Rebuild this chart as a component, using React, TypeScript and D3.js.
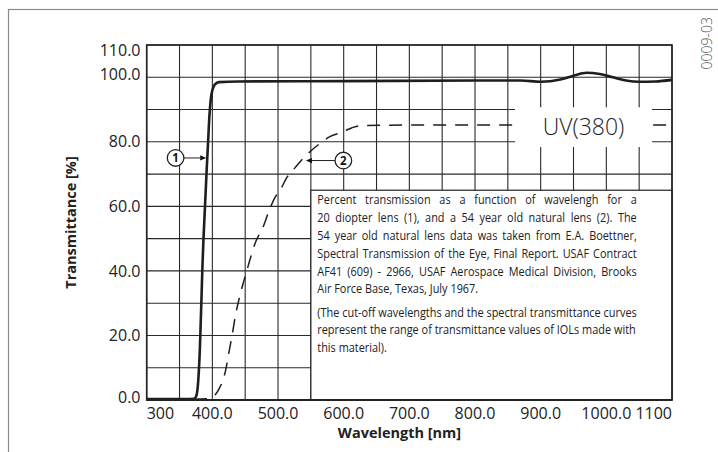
import React, { useLayoutEffect, useRef } from "react";
import * as d3 from "d3";

// ---------- data ----------
const lens20Wavelength = [300, 360, 372, 375, 376.5, 378.5, 381, 383.5, 385, 386.5, 389, 391.5, 393.5, 395.5, 397.5, 400, 404, 410, 440, 600, 800, 870, 900, 930, 950, 970, 990, 1010, 1030, 1050, 1075, 1100];
const lens20Transmit = [0.3, 0.3, 0.4, 1, 2, 6, 16, 32, 42, 50, 61, 72, 80, 88, 93, 96, 97.8, 98.5, 98.7, 98.8, 99, 99, 98.6, 99.3, 100.5, 101.4, 101, 100, 99, 98.6, 98.7, 99.2];

const natural54Wavelength = [372, 390, 400, 405, 410, 415, 420, 425, 430, 435, 441, 446, 451, 458, 465, 477, 488, 495, 505, 513, 526, 536, 549, 564, 579, 597, 612, 625, 700, 1100];
const natural54Transmit = [0.3, 0.4, 0.8, 1.8, 3.4, 5.5, 9, 14.5, 20, 26, 31.6, 35.5, 39, 44, 48.5, 53.5, 59.5, 62.6, 65.7, 68.8, 72, 74.4, 77, 79.5, 81.6, 83, 84.3, 85, 85.2, 85.2];

const xGridValues = d3.range(300, 1101, 50);
const yGridValues = d3.range(0, 111, 10);
const xTickValues = [300, 400, 500, 600, 700, 800, 900, 1000, 1100];
const xTickLabels = ["300", "400.0", "500.0", "600.0", "700.0", "800.0", "900.0", "1000.0", "1100"];
const yTickValues = [0, 20, 40, 60, 80, 100, 110];
const yTickLabels = ["0.0", "20.0", "40.0", "60.0", "80.0", "100.0", "110.0"];

const noteLines = [
  "Percent transmission as a function of wavelengh for a",
  "20 diopter lens (1), and a 54 year old natural lens (2). The",
  "54 year old natural lens data was taken from E.A. Boettner,",
  "Spectral Transmission of the Eye, Final Report. USAF Contract",
  "AF41 (609) - 2966, USAF Aerospace Medical Division, Brooks",
  "Air Force Base, Texas, July 1967.",
  "(The cut-off wavelengths and the spectral transmittance curves",
  "represent the range of transmittance values of IOLs made with",
  "this material).",
];
const noteJustified = [true, true, true, true, true, false, true, true, false];

// ---------- layout ----------
const W = 718;
const H = 452;
const M = { left: 146.7, right: 672, top: 45, bottom: 400 };
const FONT = "'Open Sans', 'DejaVu Sans', sans-serif";
const INK = "#1e1e1e";

export default function App() {
  const x = d3.scaleLinear().domain([300, 1100]).range([M.left, M.right]);
  const y = d3.scaleLinear().domain([0, 110]).range([M.bottom, M.top]);

  const line = d3
    .line<[number, number]>()
    .x((d) => x(d[0]))
    .y((d) => y(d[1]))
    .curve(d3.curveMonotoneX);

  const lens20 = lens20Wavelength.map((w, i) => [w, lens20Transmit[i]] as [number, number]);
  const natural54 = natural54Wavelength.map((w, i) => [w, natural54Transmit[i]] as [number, number]);

  // note box geometry
  const boxX = x(550);
  const boxY = y(65);
  const textX = 317.3;
  const textRight = 636.7;
  const baselines = [204, 221.9, 239.8, 257.6, 275.5, 293.3, 316.7, 334.3, 351.8];

  const refs = useRef<(SVGTextElement | null)[]>([]);
  useLayoutEffect(() => {
    const els = refs.current;
    els.forEach((el) => el && (el.style.wordSpacing = "0px"));
    const ref = els[5];
    if (!ref) return;
    const k = 161 / ref.getComputedTextLength();
    els.forEach((el, i) => {
      if (!el) return;
      el.setAttribute("transform", `translate(${textX},${baselines[i]}) scale(${k},1)`);
      if (noteJustified[i]) {
        const L = el.getComputedTextLength();
        const n = (noteLines[i].match(/ /g) || []).length;
        const target = (i === 7 ? textRight - 1 : textRight) - textX;
        el.style.wordSpacing = `${(target / k - L) / n}px`;
      }
    });
  }, []);

  // UV box
  const uvX0 = 515;
  const uvX1 = 652;
  const uvY0 = 107.3;
  const uvY1 = 147;

  const markers = [
    { label: "1", cx: x(344), cy: y(75), tip: x(390.6), dir: 1 },
    { label: "2", cx: x(599.5), cy: y(74.2), tip: x(542.5), dir: -1 },
  ];
  const r = 8.3;

  return (
    <svg
      width={W}
      height={H}
      viewBox={`0 0 ${W} ${H}`}
      style={{ position: "absolute", left: 0, top: 0, background: "#fff" }}
      fontFamily={FONT}
    >
      {/* outer frame */}
      <rect x={8.5} y={9.5} width={760} height={500} fill="none" stroke="#8a8a8a" strokeWidth={1.2} />

      {/* grid */}
      <g stroke="#2a2a2a" strokeWidth={1.1}>
        {xGridValues.map((v) => (
          <line key={"vx" + v} x1={x(v)} x2={x(v)} y1={y(0)} y2={y(110)} />
        ))}
        {yGridValues.map((v) => (
          <line key={"hy" + v} x1={x(300)} x2={x(1100)} y1={y(v)} y2={y(v)} />
        ))}
      </g>

      {/* note box */}
      <rect x={boxX} y={boxY} width={M.right - boxX} height={M.bottom - boxY} fill="#fff" stroke="#222" strokeWidth={1.2} />

      {/* curves */}
      <path d={line(natural54) || ""} fill="none" stroke={INK} strokeWidth={1.5} strokeDasharray="13,9" />
      <path d={line(lens20) || ""} fill="none" stroke={INK} strokeWidth={2.6} strokeLinejoin="round" />

      {/* UV(380) label box */}
      <rect x={uvX0} y={uvY0} width={uvX1 - uvX0} height={uvY1 - uvY0} fill="#fff" />
      <text x={(uvX0 + uvX1) / 2} y={134.5} textAnchor="middle" fontSize={23} fontWeight={300} fill={INK}>
        UV(380)
      </text>

      {/* plot frame */}
      <rect x={M.left} y={M.top} width={M.right - M.left} height={M.bottom - M.top} fill="none" stroke="#222" strokeWidth={1.6} />
      <line x1={M.left} x2={M.right} y1={M.bottom} y2={M.bottom} stroke="#222" strokeWidth={2} />

      {/* note text */}
      <g fontSize={12.5} fill="#222">
        {noteLines.map((t, i) => (
          <text key={i} ref={(el) => { refs.current[i] = el; }} transform={`translate(${textX},${baselines[i]})`}>
            {t}
          </text>
        ))}
      </g>

      {/* markers */}
      {markers.map((m) => {
        const start = m.cx + m.dir * r;
        const tip = m.tip;
        const head = 6;
        return (
          <g key={m.label}>
            <line x1={start} x2={tip - m.dir * head} y1={m.cy} y2={m.cy} stroke="#222" strokeWidth={1} />
            <path
              d={`M${tip},${m.cy} L${tip - m.dir * head},${m.cy - 2.6} L${tip - m.dir * head},${m.cy + 2.6} Z`}
              fill="#111"
            />
            <circle cx={m.cx} cy={m.cy} r={r} fill="#fff" stroke="#222" strokeWidth={1.3} />
            <text x={m.cx} y={m.cy + 4} textAnchor="middle" fontSize={11.5} fontWeight={700} fill="#111">
              {m.label}
            </text>
          </g>
        );
      })}

      {/* y tick labels */}
      <g fontSize={16} fill="#222" textAnchor="end">
        {yTickValues.map((v, i) => {
          const off = v === 110 ? 5.5 : v === 100 || v === 0 ? -3 : 0;
          return (
            <text key={v} x={140.5} y={y(v) + off} dy="0.35em">
              {yTickLabels[i]}
            </text>
          );
        })}
      </g>

      {/* x tick labels */}
      <g fontSize={16} fill="#222">
        {xTickValues.map((v, i) => {
          const anchor = i === 0 ? "start" : i === xTickValues.length - 1 ? "end" : "middle";
          return (
            <text key={v} x={x(v)} y={418.5} textAnchor={anchor}>
              {xTickLabels[i]}
            </text>
          );
        })}
      </g>

      {/* axis titles */}
      <text x={399.5} y={438} textAnchor="middle" fontSize={14.5} fontWeight={700} fill="#222">
        Wavelength [nm]
      </text>
      <text transform="translate(75.5,222.5) rotate(-90)" textAnchor="middle" fontSize={14.5} fontWeight={700} fill="#222">
        Transmittance [%]
      </text>

      {/* figure id */}
      <text transform="translate(711.5,43.3) rotate(-90)" textAnchor="middle" fontSize={14} fontWeight={300} fill="#555">
        0009-03
      </text>
    </svg>
  );
}
